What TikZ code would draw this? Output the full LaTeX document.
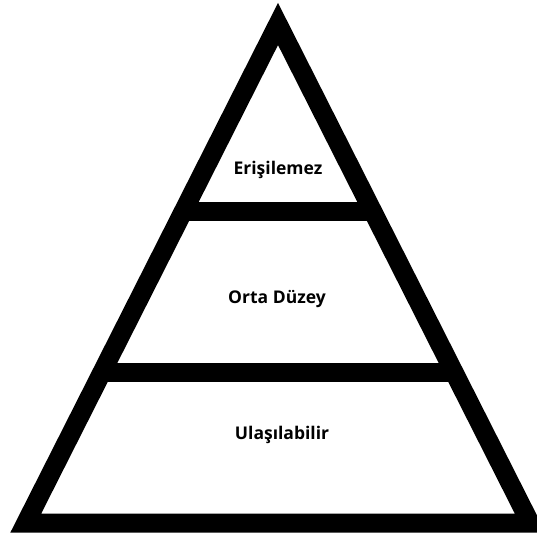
\documentclass[tikz,border=0pt]{standalone}
\usepackage{fontspec}
\setmainfont{Open Sans}
\begin{document}
\begin{tikzpicture}[x=1pt,y=-1pt,
  frame/.style={line width=19pt,line join=miter,draw=black},
  bar/.style={line width=19pt,line cap=butt,draw=black},
  lbl/.style={font=\fontsize{17.5}{20}\selectfont\bfseries,inner sep=0pt,anchor=center}]
\useasboundingbox (0,0) rectangle (537,536);
\coordinate (apex) at (278,24);
\coordinate (bl) at (25.8,523);
\coordinate (br) at (530.2,523);
\coordinate (b1l) at (183.2,211.5);
\coordinate (b1r) at (372.8,211.5);
\coordinate (b2l) at (102.1,372);
\coordinate (b2r) at (453.9,372);
\draw[frame] (apex) -- (bl) -- (br) -- cycle;
\draw[bar] (b1l) -- (b1r);
\draw[bar] (b2l) -- (b2r);
\node[lbl] (top) at (278,170) {Erişilemez};
\node[lbl] (mid) at (277,299) {Orta Düzey};
\node[lbl] (bot) at (282,435) {Ulaşılabilir};
\end{tikzpicture}
\end{document}
